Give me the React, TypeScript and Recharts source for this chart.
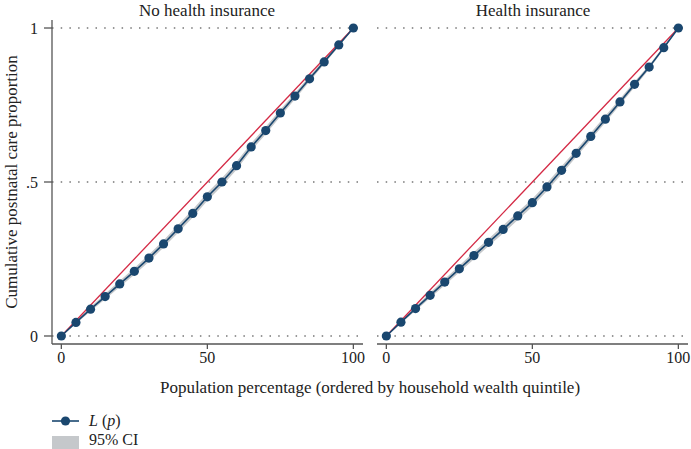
import React from "react";
import { ComposedChart, Line, Area, XAxis, YAxis, ReferenceLine } from "recharts";

const percent = [0, 5, 10, 15, 20, 25, 30, 35, 40, 45, 50, 55, 60, 65, 70, 75, 80, 85, 90, 95, 100];

const noInsL = [0, 0.044, 0.087, 0.128, 0.169, 0.21, 0.253, 0.299, 0.348, 0.398, 0.452, 0.5, 0.553, 0.614, 0.667, 0.724, 0.779, 0.835, 0.89, 0.945, 1.0];
const noInsLo = [0, 0.04, 0.08, 0.119, 0.159, 0.199, 0.241, 0.287, 0.335, 0.385, 0.439, 0.487, 0.54, 0.602, 0.655, 0.713, 0.769, 0.826, 0.883, 0.94, 1.0];
const noInsHi = [0, 0.048, 0.094, 0.137, 0.179, 0.221, 0.265, 0.311, 0.361, 0.411, 0.465, 0.513, 0.566, 0.626, 0.679, 0.735, 0.789, 0.844, 0.897, 0.95, 1.0];

const insL = [0, 0.045, 0.089, 0.132, 0.175, 0.218, 0.261, 0.304, 0.346, 0.39, 0.433, 0.484, 0.538, 0.593, 0.648, 0.704, 0.76, 0.817, 0.873, 0.936, 1.0];
const insLo = [0, 0.041, 0.082, 0.123, 0.165, 0.207, 0.249, 0.292, 0.333, 0.377, 0.42, 0.471, 0.525, 0.581, 0.636, 0.693, 0.75, 0.808, 0.866, 0.931, 1.0];
const insHi = [0, 0.049, 0.096, 0.141, 0.185, 0.229, 0.273, 0.316, 0.359, 0.403, 0.446, 0.497, 0.551, 0.605, 0.66, 0.715, 0.77, 0.826, 0.88, 0.941, 1.0];

const equality = [
  { x: 0, y: 0 },
  { x: 100, y: 1 },
];

const panelTitles = ["No health insurance", "Health insurance"];
const yTicks = [0, 0.5, 1];
const yTickLabels = ["0", ".5", "1"];
const xTicks = [0, 50, 100];

const FONT = "'Liberation Serif', 'DejaVu Serif', serif";
const NAVY = "#1a476f";
const RED = "#d42a45";
const BAND = "#c5c8cb";
const AXIS = "#555";

const build = (l: number[], lo: number[], hi: number[]) =>
  percent.map((p, i) => ({ x: p, y: l[i], ci: [lo[i], hi[i]] }));

const leftData = build(noInsL, noInsLo, noInsHi);
const rightData = build(insL, insLo, insHi);

const H = 449;

function Panel({ data, showY, width, marginLeft, marginRight }: any) {
  return (
    <ComposedChart
      width={width}
      height={H}
      data={data}
      margin={{ top: 20, right: marginRight, bottom: 75, left: marginLeft }}
    >
      <XAxis
        type="number"
        dataKey="x"
        domain={[-3.2, 103.3]}
        ticks={xTicks}
        allowDataOverflow
        height={30}
        tickSize={5}
        tickMargin={3}
        stroke={AXIS}
        strokeWidth={1.3}
        tick={{ fill: "#222", fontSize: 16, fontFamily: FONT }}
      />
      <YAxis
        type="number"
        domain={[-0.026, 1.026]}
        ticks={yTicks}
        allowDataOverflow
        hide={!showY}
        width={52}
        tickSize={8}
        tickMargin={6}
        stroke={AXIS}
        strokeWidth={1.3}
        tickFormatter={(v: number) => yTickLabels[yTicks.indexOf(v)]}
        tick={{ fill: "#222", fontSize: 16, fontFamily: FONT }}
      />
      {yTicks.map((t) => (
        <ReferenceLine key={t} y={t} stroke="#777" strokeWidth={1.5} strokeDasharray="1.5 7.2" />
      ))}
      <Area
        dataKey="ci"
        stroke="none"
        fill={BAND}
        fillOpacity={1}
        isAnimationActive={false}
        dot={false}
        activeDot={false}
      />
      <Line
        data={equality}
        dataKey="y"
        stroke={RED}
        strokeWidth={1.3}
        dot={false}
        activeDot={false}
        isAnimationActive={false}
      />
      <Line
        dataKey="y"
        stroke={NAVY}
        strokeWidth={1.6}
        dot={{ r: 4.6, fill: NAVY, stroke: NAVY, strokeWidth: 0 }}
        activeDot={false}
        isAnimationActive={false}
      />
    </ComposedChart>
  );
}

export default function App() {
  return (
    <div style={{ position: "absolute", left: 0, top: 0, width: 691, height: H, background: "#fff", overflow: "hidden" }}>
      <div style={{ position: "absolute", left: 0, top: 0 }}>
        <Panel data={leftData} showY width={365} marginLeft={0} marginRight={2} />
      </div>
      <div style={{ position: "absolute", left: 377, top: 0 }}>
        <Panel data={rightData} showY={false} width={314} marginLeft={0} marginRight={3} />
      </div>
      <svg width={691} height={H} style={{ position: "absolute", left: 0, top: 0, pointerEvents: "none" }}>
        <g fontFamily={FONT} fill="#222">
          <text x={207} y={16} fontSize={17} textAnchor="middle">{panelTitles[0]}</text>
          <text x={533} y={16} fontSize={17} textAnchor="middle">{panelTitles[1]}</text>
          <text x={17} y={182} fontSize={17} textAnchor="middle" transform="rotate(-90 17 182)">
            Cumulative postnatal care proportion
          </text>
          <text x={370} y={393} fontSize={17} textAnchor="middle">
            Population percentage (ordered by household wealth quintile)
          </text>
          <line x1={52} y1={421} x2={79} y2={421} stroke={NAVY} strokeWidth={1.6} />
          <circle cx={65.5} cy={421} r={4.6} fill={NAVY} />
          <text x={89} y={426} fontSize={16}>
            <tspan fontStyle="italic">L</tspan>
            <tspan> (</tspan>
            <tspan fontStyle="italic">p</tspan>
            <tspan>)</tspan>
          </text>
          <rect x={52} y={436} width={27} height={14} fill={BAND} />
          <text x={89} y={445} fontSize={16}>95% CI</text>
        </g>
      </svg>
    </div>
  );
}
